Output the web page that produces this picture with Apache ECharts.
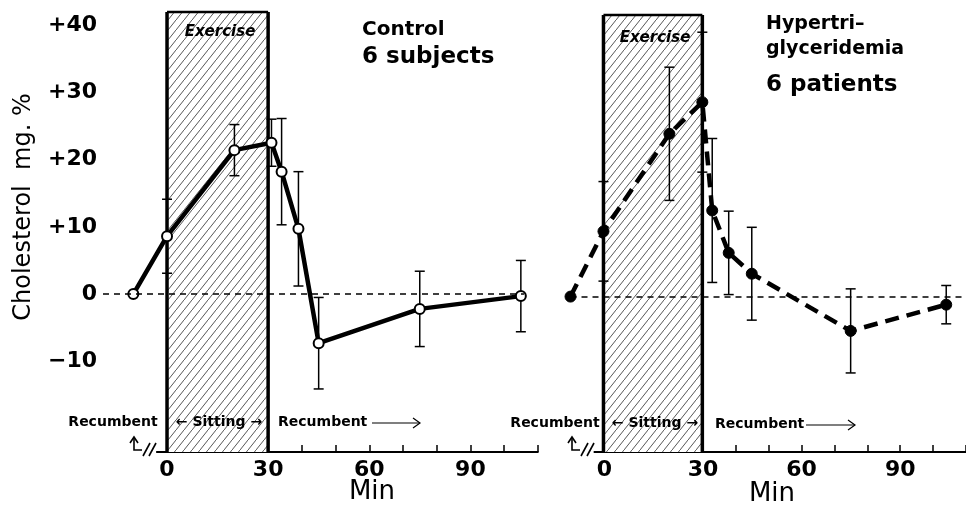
<!DOCTYPE html>
<html><head><meta charset="utf-8">
<script src="https://cdn.jsdelivr.net/npm/echarts@6/dist/echarts.min.js"></script>
<style>html,body{margin:0;padding:0;background:#fff}#c{width:966px;height:508px}</style>
</head><body><div id="c"></div>
<script>
// ---- data ----
const controlMin  = [-10, 0, 20, 31, 34, 39, 45, 75, 105];
const controlChol = [0, 8.6, 21.4, 22.5, 18.2, 9.7, -7.3, -2.2, -0.3];
const controlErr  = [0, 5.5, 3.8, 3.5, 7.9, 8.5, 6.8, 5.6, 5.3];
const hyperMin    = [-10, 0, 20, 30, 33, 38, 45, 75, 104];
const hyperChol   = [0, 9.7, 24.2, 28.9, 12.8, 6.5, 3.4, -5.1, -1.2];
const hyperErr    = [0, 7.4, 9.9, 10.4, 10.7, 6.2, 6.9, 6.25, 2.85];
const exercise    = [0, 30];
const yLabelVals  = [-10, 0, 10, 20, 30, 40];
const xLabelVals  = [0, 30, 60, 90];
const xTickVals   = [0, 10, 20, 30, 40, 50, 60, 70, 80, 90, 100, 110];

// ---- layout / style ----
const FONT = 'DejaVu Sans';
const BASE_Y = 452;
const hatchCanvas = document.createElement('canvas');
hatchCanvas.width = 8; hatchCanvas.height = 10;
(function(){
  const g = hatchCanvas.getContext('2d');
  g.fillStyle = '#fff'; g.fillRect(0,0,8,10);
  g.strokeStyle = '#444'; g.lineWidth = 0.9;
  g.beginPath();
  g.moveTo(-0.8, 11); g.lineTo(8.8, -1);
  g.stroke();
})();
const hatch = {image: hatchCanvas, repeat: 'repeat'};

function boxRenderer(topY){
  return function(params, api){
    const x1 = api.coord([api.value(0), 0])[0];
    const x2 = api.coord([api.value(1), 0])[0];
    return {type:'group', children:[
      {type:'rect', shape:{x:x1, y:topY, width:x2-x1, height:BASE_Y-topY}, style:{fill:hatch}},
      {type:'line', shape:{x1:x1, y1:topY, x2:x2, y2:topY}, style:{stroke:'#000', lineWidth:2.5}},
      {type:'line', shape:{x1:x1, y1:topY, x2:x1, y2:BASE_Y}, style:{stroke:'#000', lineWidth:3.5}},
      {type:'line', shape:{x1:x2, y1:topY, x2:x2, y2:BASE_Y}, style:{stroke:'#000', lineWidth:3.5}}
    ]};
  };
}
function errRender(params, api){
  const x = api.value(0), m = api.value(1), e = api.value(2);
  const hi = api.coord([x, m + e]), lo = api.coord([x, m - e]);
  const c = 5;
  const st = {stroke:'#000', lineWidth:1.5};
  return {type:'group', children:[
    {type:'line', shape:{x1:hi[0], y1:hi[1], x2:lo[0], y2:lo[1]}, style:st},
    {type:'line', shape:{x1:hi[0]-c, y1:hi[1], x2:hi[0]+c, y2:hi[1]}, style:st},
    {type:'line', shape:{x1:lo[0]-c, y1:lo[1], x2:lo[0]+c, y2:lo[1]}, style:st}
  ]};
}
function errData(t, v, e){
  const out = [];
  t.forEach((x,i)=>{ if (e[i] > 0) out.push([x, v[i], e[i]]); });
  return out;
}
function pairs(t, v){ return t.map((x,i)=>[x, v[i]]); }

const xAxisVisible = (gi) => ({
  type:'value', gridIndex:gi, min:-3, max:110,
  axisLine:{show:true, lineStyle:{color:'#000', width:2}},
  axisTick:{show:true, inside:true, length:7, customValues:xTickVals, lineStyle:{color:'#000', width:1.5}},
  axisLabel:{show:true, customValues:xLabelVals, margin:7, color:'#000', fontFamily:FONT, fontWeight:'bold', fontSize:22},
  splitLine:{show:false}
});

const T = (x, y, text, font, extra) => Object.assign({type:'text', x, y, z:100,
  style:Object.assign({text, font, fill:'#000'}, extra || {})});
const L = (pts, w) => ({type:'polyline', z:100, shape:{points:pts}, style:{stroke:'#000', lineWidth:w, fill:null}});

const option = {
  animation:false,
  backgroundColor:'#fff',
  grid:[
    {left:103, top:25, width:434.7, height:370},
    {left:156.9, top:420, width:380.9, height:32},
    {left:540.85, top:27.5, width:432.2, height:370},
    {left:594.45, top:420, width:378.55, height:32}
  ],
  xAxis:[
    {type:'value', gridIndex:0, min:-19, max:110, show:false},
    xAxisVisible(1),
    {type:'value', gridIndex:2, min:-19, max:110, show:false},
    xAxisVisible(3)
  ],
  yAxis:[
    {type:'value', gridIndex:0, min:-15, max:40, interval:5,
     axisLine:{show:true, lineStyle:{color:'#000', width:2}},
     axisTick:{show:true, inside:true, length:12, lineStyle:{color:'#000', width:2}},
     axisLabel:{show:true, customValues:yLabelVals, margin:6, color:'#000', fontFamily:FONT, fontWeight:'bold', fontSize:22,
       formatter:v => v > 0 ? '+' + v : (v < 0 ? '\u2212' + Math.abs(v) : '0')},
     splitLine:{show:false}},
    {type:'value', gridIndex:1, min:0, max:1, show:false},
    {type:'value', gridIndex:2, min:-15, max:40, show:false},
    {type:'value', gridIndex:3, min:0, max:1, show:false}
  ],
  series:[
    {type:'custom', xAxisIndex:0, yAxisIndex:0, z:1, silent:true, clip:false,
     renderItem:boxRenderer(12), data:[[exercise[0], exercise[1]]]},
    {type:'custom', xAxisIndex:2, yAxisIndex:2, z:1, silent:true, clip:false,
     renderItem:boxRenderer(15), data:[[exercise[0], exercise[1]]]},
    {type:'custom', xAxisIndex:0, yAxisIndex:0, z:3, renderItem:errRender, data:errData(controlMin, controlChol, controlErr)},
    {type:'custom', xAxisIndex:2, yAxisIndex:2, z:3, renderItem:errRender, data:errData(hyperMin, hyperChol, hyperErr)},
    {type:'line', name:'Control', xAxisIndex:0, yAxisIndex:0, z:4,
     data:pairs(controlMin, controlChol),
     symbol:'circle', symbolSize:10,
     itemStyle:{color:'#fff', borderColor:'#000', borderWidth:2},
     lineStyle:{color:'#000', width:4.5},
     markLine:{silent:true, symbol:'none', label:{show:false},
       lineStyle:{color:'#000', width:1.5, type:[6,5]},
       data:[[{coord:[-19,0]},{coord:[106,0]}]]}},
    {type:'line', name:'Hypertriglyceridemia', xAxisIndex:2, yAxisIndex:2, z:4,
     data:pairs(hyperMin, hyperChol),
     symbol:'circle', symbolSize:11,
     itemStyle:{color:'#000', borderColor:'#000', borderWidth:1},
     lineStyle:{color:'#000', width:4.5, type:[14,8]},
     markLine:{silent:true, symbol:'none', label:{show:false},
       lineStyle:{color:'#000', width:1.5, type:[6,5]},
       data:[[{coord:[-10,0]},{coord:[110,0]}]]}}
  ],
  graphic:[
    Object.assign(T(24, 207, 'Cholesterol  mg. %', '24px "DejaVu Sans"', {align:'center', verticalAlign:'middle'}), {rotation:Math.PI/2}),
    T(362, 20, 'Control', 'bold 20px "DejaVu Sans"'),
    T(362, 46, '6 subjects', 'bold 23px "DejaVu Sans"'),
    T(766, 15, 'Hypertri\u2013', 'bold 19px "DejaVu Sans"'),
    T(766, 40, 'glyceridemia', 'bold 19px "DejaVu Sans"'),
    T(766, 74, '6 patients', 'bold 23px "DejaVu Sans"'),
    T(220, 32, 'Exercise', 'italic bold 15px "DejaVu Sans"', {align:'center', verticalAlign:'middle'}),
    T(655, 38, 'Exercise', 'italic bold 15px "DejaVu Sans"', {align:'center', verticalAlign:'middle'}),
    T(113, 422, 'Recumbent', 'bold 14px "DejaVu Sans"', {align:'center', verticalAlign:'middle'}),
    T(219, 422, '\u2190 Sitting \u2192', 'bold 14px "DejaVu Sans"', {align:'center', verticalAlign:'middle'}),
    T(278, 422, 'Recumbent', 'bold 14px "DejaVu Sans"', {verticalAlign:'middle'}),
    L([[372,423],[420,423]], 1.2),
    L([[413,418],[420,423],[413,428]], 1.2),
    T(555, 423, 'Recumbent', 'bold 14px "DejaVu Sans"', {align:'center', verticalAlign:'middle'}),
    T(655, 423, '\u2190 Sitting \u2192', 'bold 14px "DejaVu Sans"', {align:'center', verticalAlign:'middle'}),
    T(715, 424, 'Recumbent', 'bold 14px "DejaVu Sans"', {verticalAlign:'middle'}),
    L([[806,425],[855,425]], 1.2),
    L([[848,420],[855,425],[848,430]], 1.2),
    // axis break marks
    L([[134,438],[134,450],[142,450]], 1.6),
    L([[130,443],[134,437],[138,443]], 1.6),
    L([[143,456],[150,443]], 1.6),
    L([[149,456],[156,443]], 1.6),
    L([[572,438],[572,450],[580,450]], 1.6),
    L([[568,443],[572,437],[576,443]], 1.6),
    L([[581,456],[588,443]], 1.6),
    L([[587,456],[594,443]], 1.6),
    T(372, 492, 'Min', '26px "DejaVu Sans"', {align:'center', verticalAlign:'middle'}),
    T(772, 494, 'Min', '26px "DejaVu Sans"', {align:'center', verticalAlign:'middle'})
  ]
};
const chart = echarts.init(document.getElementById('c'), null, {renderer:'canvas'});
chart.setOption(option);
</script>
</body></html>
